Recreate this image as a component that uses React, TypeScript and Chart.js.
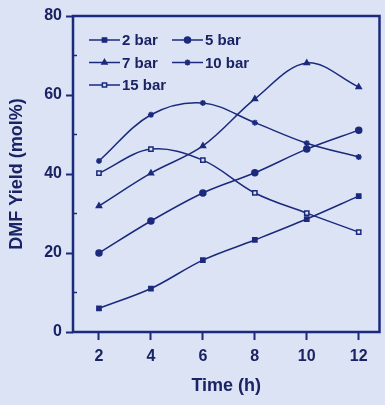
import React, { useEffect, useRef } from 'react';
import { Chart, registerables } from 'chart.js';
import { drawPoint } from 'chart.js/helpers';

Chart.register(...registerables);

const times = [2, 4, 6, 8, 10, 12];
const xTicks = [2, 4, 6, 8, 10, 12];
const yMajorTicks = [0, 20, 40, 60, 80];
const yMinorTicks = [10, 30, 50, 70];
const seriesLabels = ['2 bar', '5 bar', '7 bar', '10 bar', '15 bar'];
const bar2 = [6, 11, 18.2, 23.3, 28.6, 34.4];
const bar5 = [20, 28.1, 35.2, 40.3, 46.3, 51.1];
const bar7 = [31.9, 40.2, 47.1, 59, 68.1, 62];
const bar10 = [43.3, 55, 58, 53, 47.8, 44.3];
const bar15 = [40.2, 46.3, 43.5, 35.2, 30.1, 25.3];

const BG = '#dbe3f5';
const NAVY = '#1b2a7c';
const TEXT = '#1a2363';
const FONT = "'Liberation Sans', Arial, sans-serif";

const seriesValues = [bar2, bar5, bar7, bar10, bar15];
const pointStyles = ['rect', 'circle', 'triangle', 'star', 'rect'];
const pointFills = [NAVY, NAVY, NAVY, NAVY, BG];

const framePlugin = {
  id: 'frame',
  afterDatasetsDraw(chart: any) {
    const { ctx, chartArea } = chart;
    const ys = chart.scales.y;
    ctx.save();
    ctx.strokeStyle = NAVY;
    ctx.lineWidth = 2.5;
    ctx.strokeRect(chartArea.left, chartArea.top, chartArea.right - chartArea.left, chartArea.bottom - chartArea.top);
    ctx.lineWidth = 1.5;
    yMinorTicks.forEach((v) => {
      const py = ys.getPixelForValue(v);
      ctx.beginPath();
      ctx.moveTo(chartArea.left, py);
      ctx.lineTo(chartArea.left + 4, py);
      ctx.stroke();
    });
    // legend
    ctx.font = `bold 15px ${FONT}`;
    ctx.textBaseline = 'middle';
    ctx.textAlign = 'left';
    chart.data.datasets.forEach((ds: any, i: number) => {
      const col = i % 2;
      const row = Math.floor(i / 2);
      const x0 = chartArea.left + 16 + col * 83;
      const y0 = chartArea.top + 24 + row * 22.5;
      ctx.strokeStyle = NAVY;
      ctx.lineWidth = 1.5;
      ctx.beginPath();
      ctx.moveTo(x0, y0);
      ctx.lineTo(x0 + 31, y0);
      ctx.stroke();
      ctx.fillStyle = ds.pointBackgroundColor;
      ctx.strokeStyle = NAVY;
      ctx.lineWidth = 1.5;
      drawPoint(ctx, { pointStyle: ds.pointStyle, radius: 3, rotation: 0, borderWidth: 1.5 }, x0 + 15.5, y0);
      ctx.fillStyle = TEXT;
      ctx.fillText(ds.label, x0 + 33, y0 + 1);
    });
    ctx.restore();
  },
};

export default function App() {
  const ref = useRef<HTMLCanvasElement>(null);
  useEffect(() => {
    if (!ref.current) return;
    const chart = new Chart(ref.current, {
      type: 'line',
      data: {
        datasets: seriesValues.map((vals, i) => ({
          label: seriesLabels[i],
          data: times.map((t, j) => ({ x: t, y: vals[j] })),
          borderColor: NAVY,
          borderWidth: 1.5,
          tension: 0.35,
          pointStyle: pointStyles[i] as any,
          pointRadius: 3,
          pointBackgroundColor: pointFills[i],
          pointBorderColor: NAVY,
          pointBorderWidth: 1.5,
          fill: false,
        })),
      },
      options: {
        animation: false,
        responsive: false,
        devicePixelRatio: 1,
        layout: { padding: { top: 16, right: 5, left: 0, bottom: 0 } },
        plugins: { legend: { display: false }, tooltip: { enabled: false } },
        scales: {
          x: {
            type: 'linear',
            min: 1,
            max: 12.8,
            afterBuildTicks: (s: any) => { s.ticks = xTicks.map((v) => ({ value: v })); },
            afterFit: (s: any) => { s.height = 73; },
            border: { display: false },
            grid: { drawOnChartArea: false, tickLength: 8, tickColor: NAVY, tickWidth: 2 },
            ticks: { color: TEXT, padding: 7, font: { family: FONT, size: 16, weight: 'bold' } },
            title: { display: true, text: 'Time (h)', color: TEXT, padding: { top: 0, bottom: 8 }, font: { family: FONT, size: 18, weight: 'bold' } },
          },
          y: {
            type: 'linear',
            min: 0,
            max: 80,
            afterBuildTicks: (s: any) => { s.ticks = yMajorTicks.map((v) => ({ value: v })); },
            afterFit: (s: any) => { s.width = 73; },
            border: { display: false },
            grid: { drawOnChartArea: false, tickLength: 7, tickColor: NAVY, tickWidth: 2 },
            ticks: { color: TEXT, padding: 4, font: { family: FONT, size: 16, weight: 'bold' } },
            title: { display: true, text: 'DMF Yield (mol%)', color: TEXT, padding: { top: 6, bottom: 0 }, font: { family: FONT, size: 18, weight: 'bold' } },
          },
        },
      },
      plugins: [framePlugin],
    });
    return () => chart.destroy();
  }, []);
  return (
    <div style={{ position: 'fixed', left: 0, top: 0, width: 385, height: 405, background: BG }}>
      <canvas ref={ref} width={385} height={405} style={{ display: 'block' }} />
    </div>
  );
}
